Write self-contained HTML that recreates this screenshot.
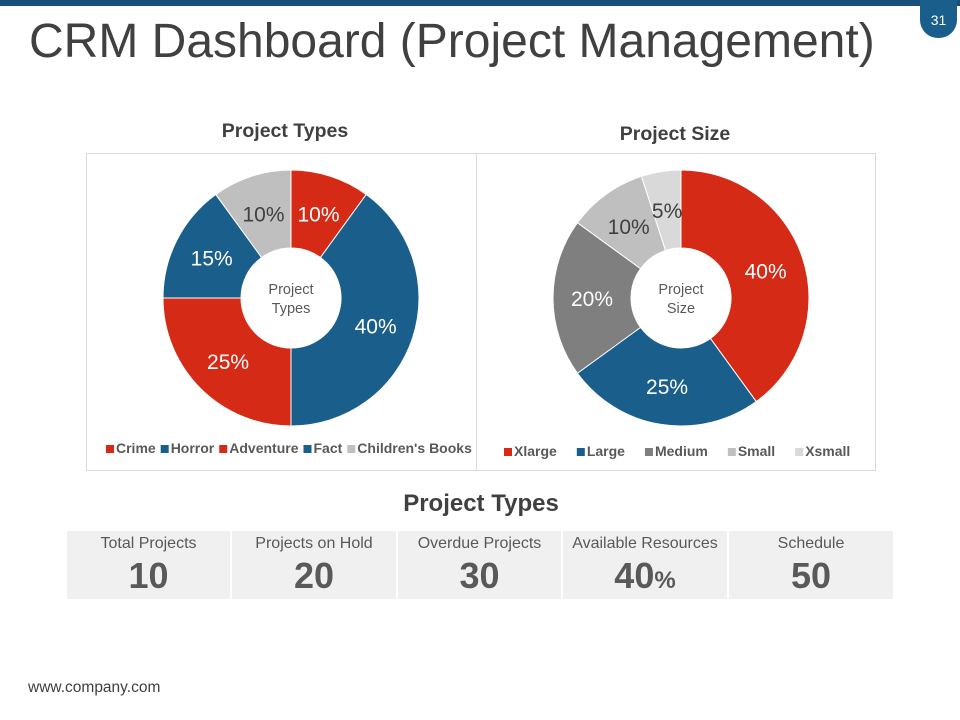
<!DOCTYPE html>
<html><head><meta charset="utf-8"><style>
body{margin:0;width:960px;height:720px;background:#fff;font-family:"Liberation Sans",Arial,sans-serif;position:relative;overflow:hidden}
.abs{position:absolute}
.cell{position:absolute;top:531px;height:68px;background:#f0f0f0;text-align:center;color:#595959}
.cell .l{font-size:16px;margin-top:4px}
.cell .n{font-size:36px;font-weight:bold;line-height:40px;margin-top:3px}
</style></head><body>
<div class="abs" style="left:0;top:0;width:960px;height:6px;background:#1a4f7a"></div>
<div class="abs" style="left:920px;top:0;width:37px;height:38px;background:#1a5e8c;border-radius:0 0 18px 18px;color:#fff;font-size:14px;text-align:center;line-height:40px">31</div>
<div class="abs" style="left:29px;top:14px;font-size:48px;color:#404040;white-space:nowrap">CRM Dashboard (Project Management)</div>
<svg class="abs" style="left:0;top:0" width="960" height="720" id="charts">
<rect x="86.5" y="153.5" width="390" height="317" fill="none" stroke="#d9d9d9"/>
<rect x="476.5" y="153.5" width="399" height="317" fill="none" stroke="#d9d9d9"/>
<text x="285" y="137" text-anchor="middle" font-size="19.5" font-weight="bold" fill="#404040">Project Types</text>
<text x="675" y="140" text-anchor="middle" font-size="19.5" font-weight="bold" fill="#404040">Project Size</text>
<g id="d1"></g><g id="d2"></g>
</svg>
<div class="abs" style="left:0;width:962px;top:490px;text-align:center;font-size:24px;font-weight:bold;color:#404040">Project Types</div>
<div class="cell" style="left:67px;width:163px"><div class="l">Total Projects</div><div class="n">10</div></div>
<div class="cell" style="left:232px;width:164px"><div class="l">Projects on Hold</div><div class="n">20</div></div>
<div class="cell" style="left:398px;width:163px"><div class="l">Overdue Projects</div><div class="n">30</div></div>
<div class="cell" style="left:563px;width:164px"><div class="l">Available Resources</div><div class="n">40<span style="font-size:24px">%</span></div></div>
<div class="cell" style="left:729px;width:164px"><div class="l">Schedule</div><div class="n">50</div></div>
<div class="abs" style="left:28px;top:679px;font-size:15.5px;color:#404040">www.company.com</div>
<script>
const typeCats=["Crime","Horror","Adventure","Fact","Children's Books"];
const typeVals=[10,40,25,15,10];
const sizeCats=["Xlarge","Large","Medium","Small","Xsmall"];
const sizeVals=[40,25,20,10,5];
const NS="http://www.w3.org/2000/svg";
function mk(t,a,p){const e=document.createElementNS(NS,t);for(const k in a)e.setAttribute(k,a[k]);p.appendChild(e);return e;}
function donut(g,cx,cy,cats,vals,colors,labelCols,center,legX,legY,legGaps){
  const R=128,r=50,tot=vals.reduce((a,b)=>a+b,0);let acc=0;
  vals.forEach((v,i)=>{
    const a0=acc/tot*2*Math.PI,a1=(acc+v)/tot*2*Math.PI;acc+=v;
    const P=(rr,a)=>[cx+rr*Math.sin(a),cy-rr*Math.cos(a)];
    const [x0,y0]=P(R,a0),[x1,y1]=P(R,a1),[x2,y2]=P(r,a1),[x3,y3]=P(r,a0);
    const lg=(a1-a0)>Math.PI?1:0;
    const p=mk('path',{d:`M${x0},${y0}A${R},${R} 0 ${lg} 1 ${x1},${y1}L${x2},${y2}A${r},${r} 0 ${lg} 0 ${x3},${y3}Z`,fill:colors[i],stroke:'#fff','stroke-width':1},g);
    
    
    const am=(a0+a1)/2,[lx,ly]=P(89,am);
    const t=mk('text',{x:lx,y:ly+8,'text-anchor':'middle','font-size':21,fill:labelCols[i]},g);t.textContent=v+'%';
    
    
  });
  center.forEach((s,j)=>{const t=mk('text',{x:cx,y:cy-4+j*19,'text-anchor':'middle','font-size':14.5,fill:'#595959'},g);t.textContent=s;
    
    });
  let x=legX;
  cats.forEach((c,i)=>{
    const s=mk('rect',{x:x,y:legY-8,width:8,height:8,fill:colors[i]},g);
    
    
    const t=mk('text',{x:x+10,y:legY,'font-size':14,'font-weight':'bold',fill:'#595959'},g);t.textContent=c;
    
    
    x+=10+t.getComputedTextLength()+legGaps;
  });
}
donut(document.getElementById('d1'),291,298,typeCats,typeVals,['#d42a16','#1a5e8c','#d42a16','#1a5e8c','#bfbfbf'],['#fff','#fff','#fff','#fff','#404040'],['Project','Types'],106,453,5);
donut(document.getElementById('d2'),681,298,sizeCats,sizeVals,['#d42a16','#1a5e8c','#7f7f7f','#bfbfbf','#d9d9d9'],['#fff','#fff','#fff','#404040','#404040'],['Project','Size'],504,456,20);
</script>
</body></html>
